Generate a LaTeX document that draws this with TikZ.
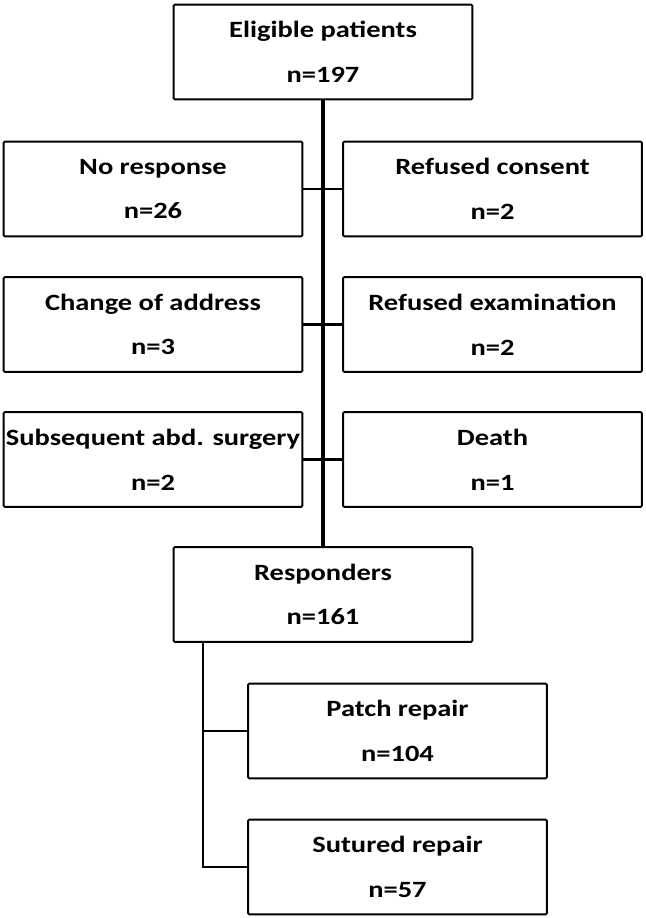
\documentclass[tikz,border=0pt]{standalone}
\usepackage{fontspec}
\setmainfont{Carlito}[FakeStretch=1.22]
\usepackage{tikz}
\usetikzlibrary{positioning,calc}

\tikzset{
  box/.style={draw, line width=1.4pt, rounded corners=0.8pt, minimum width=224pt,
    minimum height=71pt, align=center, inner sep=0pt,
    font=\bfseries\fontsize{17.5}{33.5}\selectfont},
  trunk/.style={line width=2.4pt},
  link/.style={line width=1.6pt}
}

\begin{document}
\begin{tikzpicture}[x=0.75pt,y=-0.75pt]
\useasboundingbox (0,0) rectangle (646,918);
\node[box] (elig) at (323,52) {Eligible patients\\n=197};
\node[box] (noresp) at (153,189) {No response\\n=26};
\node[box] (refcons) at (492.5,189) {Refused consent\\n=2};
\node[box] (chaddr) at (153,324.5) {Change of address\\n=3};
\node[box] (refexam) at (492.5,324.5) {Refused examination\\n=2};
\node[box] (subsurg) at (153,459.5) {Subsequent abd. surgery\\n=2};
\node[box] (death) at (492.5,459.5) {Death\\n=1};
\node[box] (resp) at (323,594.5) {Responders\\n=161};
\node[box] (patch) at (397.5,731) {Patch repair\\n=104};
\node[box] (sutured) at (397.5,867) {Sutured repair\\n=57};
\coordinate (br) at (203,643);
\path[link]
(noresp) edge (refcons)
(chaddr) edge (refexam)
(subsurg) edge (death);
\draw[trunk] (elig) -- (resp);
\draw[link] (br) |- (sutured.west);
\draw[link] (br |- patch.west) -- (patch.west);
\end{tikzpicture}
\end{document}
